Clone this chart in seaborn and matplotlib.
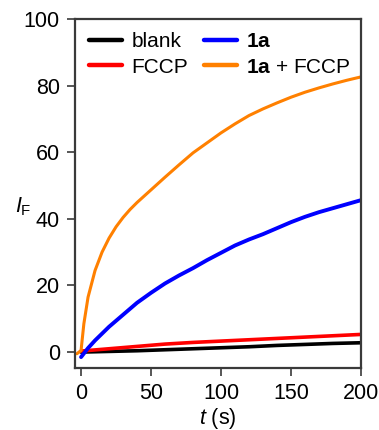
import matplotlib
matplotlib.use("Agg")
import matplotlib.pyplot as plt
import seaborn as sns
import pandas as pd

# Fluorescence intensity traces I_F versus time t (s)
t_slow = [0, 20, 40, 60, 80, 100, 120, 140, 160, 180, 200]
blank = [0.0, 0.2, 0.4, 0.7, 1.0, 1.3, 1.6, 2.0, 2.3, 2.6, 2.8]
fccp = [0.3, 1.0, 1.7, 2.4, 2.9, 3.3, 3.7, 4.1, 4.5, 4.9, 5.3]

t_1a = [0, 5, 10, 20, 30, 40, 50, 60, 70, 80, 90, 100, 110, 120, 130,
        140, 150, 160, 170, 180, 190, 200]
cmp_1a = [-1.5, 1.2, 3.5, 7.6, 11.2, 14.8, 17.8, 20.6, 23.0, 25.2, 27.6,
          29.8, 32.0, 33.8, 35.4, 37.2, 39.0, 40.6, 42.0, 43.2, 44.4, 45.6]

t_1a_fccp = [-3, 0, 2, 5, 10, 15, 20, 25, 30, 35, 40, 50, 60, 70, 80, 90,
             100, 110, 120, 130, 140, 150, 160, 170, 180, 190, 200]
cmp_1a_fccp = [-0.5, 0.5, 8.5, 16.5, 24.5, 30.0, 34.2, 37.6, 40.4, 42.8,
               44.9, 48.7, 52.5, 56.2, 59.8, 62.8, 65.8, 68.5, 71.0, 73.0,
               74.8, 76.5, 78.0, 79.3, 80.5, 81.6, 82.6]

labels = ["blank", "FCCP", r"$\mathbf{1a}$", r"$\mathbf{1a}$ + FCCP"]
colors = ["#000000", "#ff0000", "#0000ff", "#ff8000"]

frames = [
    pd.DataFrame({"t": t_slow, "IF": blank, "sample": labels[0]}),
    pd.DataFrame({"t": t_slow, "IF": fccp, "sample": labels[1]}),
    pd.DataFrame({"t": t_1a, "IF": cmp_1a, "sample": labels[2]}),
    pd.DataFrame({"t": t_1a_fccp, "IF": cmp_1a_fccp, "sample": labels[3]}),
]
df = pd.concat(frames, ignore_index=True)

sns.set_style("ticks")
plt.rcParams["font.family"] = ["Liberation Sans", "DejaVu Sans"]
plt.rcParams["mathtext.fontset"] = "custom"
plt.rcParams["mathtext.rm"] = "Liberation Sans"
plt.rcParams["mathtext.it"] = "Liberation Sans:italic"
plt.rcParams["mathtext.bf"] = "Liberation Sans:bold"
plt.rcParams["text.color"] = "black"
plt.rcParams["axes.labelcolor"] = "black"

FS = 15.5

fig = plt.figure(figsize=(3.79, 4.30), dpi=100)
ax = fig.add_axes([0.198, 0.144, 0.7545, 0.812])

widths = {labels[0]: 2.6, labels[1]: 2.6, labels[2]: 2.8, labels[3]: 2.2}
sns.lineplot(data=df, x="t", y="IF", hue="sample", hue_order=labels,
             palette=dict(zip(labels, colors)), size="sample",
             sizes=widths, ax=ax, legend=False, sort=False)

ax.set_xlim(-4.3, 200)
ax.set_ylim(-4.8, 100)
ax.set_xticks([0, 50, 100, 150, 200])
ax.set_yticks([0, 20, 40, 60, 80, 100])

for s in ax.spines.values():
    s.set_visible(True)
    s.set_color("#3a3a3a")
    s.set_linewidth(1.6)
ax.tick_params(axis="both", direction="out", length=6, width=1.2,
               color="#3a3a3a", labelcolor="black", labelsize=FS, pad=5)

ax.set_xlabel(r"$t$ (s)", fontsize=FS, labelpad=1)
ax.set_ylabel(r"$I_\mathrm{F}$", fontsize=FS, rotation=0)
ax.yaxis.set_label_coords(-0.18, 0.43)

handles = [plt.Line2D([], [], color=c, lw=3.2) for c in colors]
ax.legend(handles, labels, ncol=2, loc="upper left", frameon=False,
          fontsize=15, handlelength=1.6, handletextpad=0.45,
          columnspacing=0.75, labelspacing=0.3,
          borderaxespad=0.25, bbox_to_anchor=(0.0, 1.0))

fig.savefig("out.png", dpi=100)
